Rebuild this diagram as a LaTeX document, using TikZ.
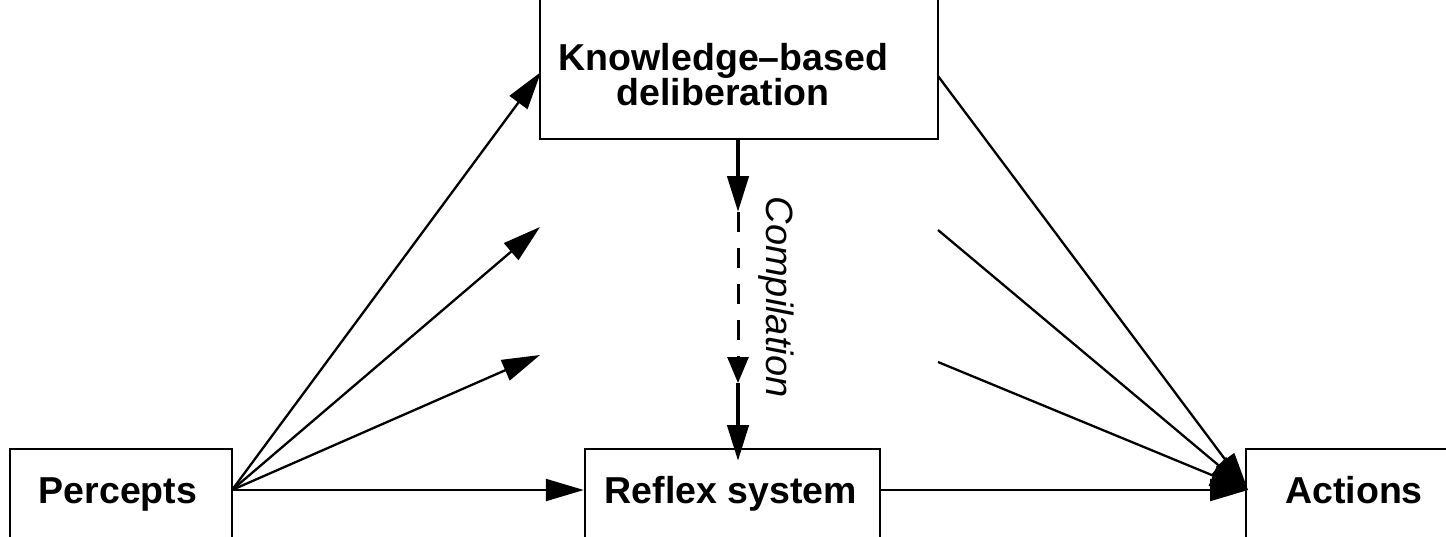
\documentclass[tikz,border=0pt]{standalone}
\usepackage{fontspec}
\setmainfont{Liberation Sans}
\usetikzlibrary{arrows.meta,calc}
\begin{document}
\begin{tikzpicture}[x=1pt,y=-1pt,
  box/.style={draw,line width=2.5pt,rectangle,inner sep=0pt},
  lbl/.style={font=\fontsize{37.5}{35}\selectfont\bfseries,inner sep=0pt,anchor=base},
  conn/.style={line width=2.3pt,-{Triangle[length=38pt,width=22pt]}},
  thickconn/.style={line width=4.5pt,-{Triangle[length=36pt,width=21pt]}},
  dashconn/.style={line width=3pt,dash pattern=on 20pt off 16pt,-{Triangle[length=26pt,width=21pt]}}]
\useasboundingbox (0,0) rectangle (1446,536);
% boxes
\node[box,minimum width=398pt,minimum height=150pt] (kb) at (739,64) {};
\node[box,minimum width=222pt,minimum height=120pt] (pb) at (121,509) {};
\node[box,minimum width=295pt,minimum height=120pt] (rb) at (732.5,509) {};
\node[box,minimum width=240pt,minimum height=120pt] (ab) at (1366,509) {};
% texts
\node[lbl] (kt1) at (723.5,70) {Knowledge–based};
\node[lbl] (kt2) at (723,105) {deliberation};
\node[lbl] (pt) at (118,503) {Percepts};
\node[lbl] (rt) at (731,503) {Reflex system};
\node[lbl] (at) at (1354,503) {Actions};
\node[font=\fontsize{38}{40}\selectfont\itshape,rotate=-90,inner sep=0pt] (ct) at (776,297) {Compilation};
% free ends
\coordinate (po) at (232,490);
\coordinate (ai) at (1248,490);
\coordinate (ri) at (rb.west |- po);
\coordinate (ro) at (rb.east |- po);
\coordinate (ka) at (541,72);
\coordinate (kc) at (938,76);
\coordinate (a1) at (540,227);
\coordinate (a2) at (540,355);
\coordinate (b1) at (938,230);
\coordinate (b2) at (938,362);
\coordinate (c1) at (738,212);
\coordinate (c2) at (738,383);
\coordinate (c3) at (738,461);
% percepts fan
\draw[conn] (po) -- (ka);
\draw[conn] (po) -- (a1);
\draw[conn] (po) -- (a2);
\draw[conn] (po) -- (ri);
% to actions
\draw[conn] (kc) -- (ai);
\draw[conn] (b1) -- (ai);
\draw[conn] (b2) -- (ai);
\draw[conn] (ro) -- (ai);
% compilation
\draw[thickconn] (kb.south -| c1) -- (c1);
\draw[dashconn] (c1) -- (c2);
\draw[thickconn] (c2) -- (c3);
\end{tikzpicture}
\end{document}
